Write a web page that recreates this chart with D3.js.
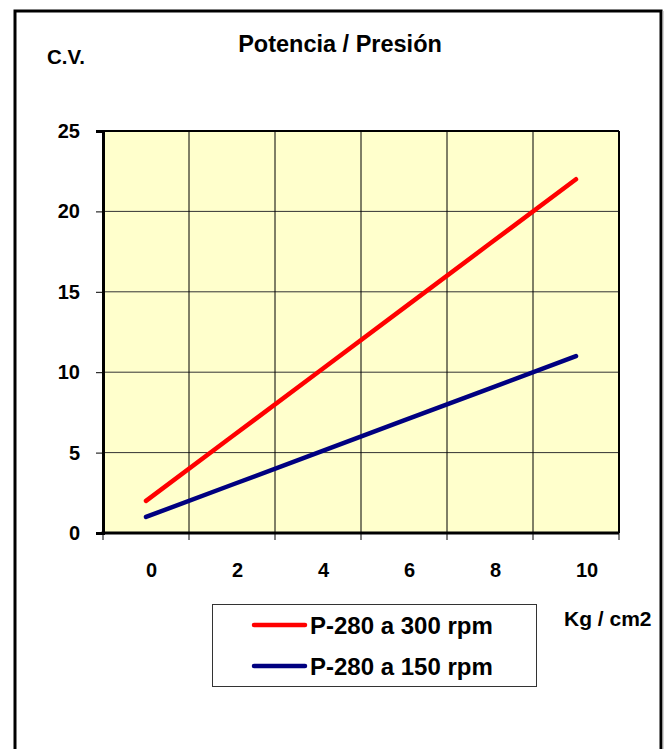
<!DOCTYPE html>
<html>
<head>
<meta charset="utf-8">
<script src="https://cdn.jsdelivr.net/npm/d3@7"></script>
<style>
  html, body { margin: 0; padding: 0; background: #fff; }
  svg { display: block; font-family: "Liberation Sans", Arial, sans-serif; font-weight: bold; }
</style>
</head>
<body>
<svg id="chart" width="672" height="749"></svg>
<script>
// ---- data ----
const categories = ["0", "2", "4", "6", "8", "10"];
const seriesNames = ["P-280 a 300 rpm", "P-280 a 150 rpm"];
const red300 = [2, 6, 10, 14, 18, 22];
const blue150 = [1, 3, 5, 7, 9, 11];
const yTicks = [0, 5, 10, 15, 20, 25];
const titleText = "Potencia / Presión";
const yTitle = "C.V.";
const xTitle = "Kg / cm2";

// ---- layout ----
const svg = d3.select("#chart");
const plot = { left: 103, top: 131, right: 619, bottom: 533 };
const colors = ["#FF0000", "#000080"];

// outer frame
svg.append("rect").attr("x", 15).attr("y", 11).attr("width", 646).attr("height", 760)
  .attr("fill", "none").attr("stroke", "#000").attr("stroke-width", 3);
svg.append("line").attr("x1", 663).attr("x2", 663).attr("y1", 11).attr("y2", 749)
  .attr("stroke", "#aaa").attr("stroke-width", 1);

const x = d3.scaleBand().domain(categories).range([plot.left, plot.right]).padding(0);
const y = d3.scaleLinear().domain([0, 25]).range([plot.bottom, plot.top]);
const xc = c => x(c) + x.bandwidth() / 2;

// plot background
svg.append("rect").attr("x", plot.left).attr("y", plot.top)
  .attr("width", plot.right - plot.left).attr("height", plot.bottom - plot.top)
  .attr("fill", "#FFFFCC");

// horizontal gridlines
svg.append("g").selectAll("line").data(yTicks.filter(t => t > 0 && t < 25)).join("line")
  .attr("x1", plot.left).attr("x2", plot.right)
  .attr("y1", d => y(d)).attr("y2", d => y(d))
  .attr("stroke", "#333").attr("stroke-width", 1);

// vertical gridlines (category boundaries)
const bounds = categories.slice(1).map(c => x(c));
svg.append("g").selectAll("line").data(bounds).join("line")
  .attr("x1", d => d).attr("x2", d => d)
  .attr("y1", plot.top).attr("y2", plot.bottom)
  .attr("stroke", "#000").attr("stroke-width", 1);

// top & right border
svg.append("line").attr("x1", plot.left).attr("x2", plot.right).attr("y1", plot.top).attr("y2", plot.top)
  .attr("stroke", "#000").attr("stroke-width", 2);
svg.append("line").attr("x1", plot.right).attr("x2", plot.right).attr("y1", plot.top).attr("y2", plot.bottom)
  .attr("stroke", "#000").attr("stroke-width", 2);

// y axis
const yAxis = svg.append("g").attr("transform", `translate(${plot.left},0)`)
  .call(d3.axisLeft(y).tickValues(yTicks).tickSize(7).tickPadding(16).tickFormat(d3.format("d")));
yAxis.select(".domain").attr("stroke", "#000").attr("stroke-width", 3);
yAxis.selectAll(".tick line").attr("stroke", "#000").attr("stroke-width", 1);
yAxis.selectAll(".tick text").attr("font-size", 20).attr("font-weight", "bold")
  .attr("font-family", "Liberation Sans, Arial, sans-serif").attr("fill", "#000");

// x axis ticks at category boundaries
const xTickPos = categories.map(c => x(c)).concat([plot.right]);
svg.append("g").selectAll("line").data(xTickPos).join("line")
  .attr("x1", d => d).attr("x2", d => d)
  .attr("y1", plot.bottom).attr("y2", plot.bottom + 7)
  .attr("stroke", "#000").attr("stroke-width", 1);
svg.append("line").attr("x1", plot.left - 1.5).attr("x2", plot.right)
  .attr("y1", plot.bottom).attr("y2", plot.bottom)
  .attr("stroke", "#000").attr("stroke-width", 3);

// x labels (left-anchored at category centre)
svg.append("g").selectAll("text").data(categories).join("text")
  .attr("x", d => xc(d)).attr("y", 577)
  .attr("text-anchor", "start").attr("font-size", 20).attr("fill", "#000")
  .text(d => d);

// lines
const line = d3.line().x((d, i) => xc(categories[i])).y(d => y(d));
[red300, blue150].forEach((s, k) => {
  svg.append("path").datum(s).attr("d", line)
    .attr("fill", "none").attr("stroke", colors[k]).attr("stroke-width", 4.5)
    .attr("stroke-linecap", "round").attr("stroke-linejoin", "round");
});

// titles
svg.append("text").attr("x", 340).attr("y", 52).attr("text-anchor", "middle")
  .attr("font-size", 23.5).attr("fill", "#000").text(titleText);
svg.append("text").attr("x", 47).attr("y", 64).attr("text-anchor", "start")
  .attr("font-size", 20.5).attr("fill", "#000").text(yTitle);
svg.append("text").attr("x", 564).attr("y", 626).attr("text-anchor", "start")
  .attr("font-size", 21).attr("fill", "#000").text(xTitle);

// legend
const lg = svg.append("g");
lg.append("rect").attr("x", 212.5).attr("y", 604.5).attr("width", 324).attr("height", 82)
  .attr("fill", "#fff").attr("stroke", "#333").attr("stroke-width", 1);
const legY = [625, 666];
const legBase = [634, 675];
seriesNames.forEach((n, k) => {
  lg.append("line").attr("x1", 254).attr("x2", 305).attr("y1", legY[k]).attr("y2", legY[k])
    .attr("stroke", colors[k]).attr("stroke-width", 4.5).attr("stroke-linecap", "round");
  lg.append("text").attr("x", 310).attr("y", legBase[k]).attr("font-size", 24)
    .attr("fill", "#000").text(n);
});
</script>
</body>
</html>
